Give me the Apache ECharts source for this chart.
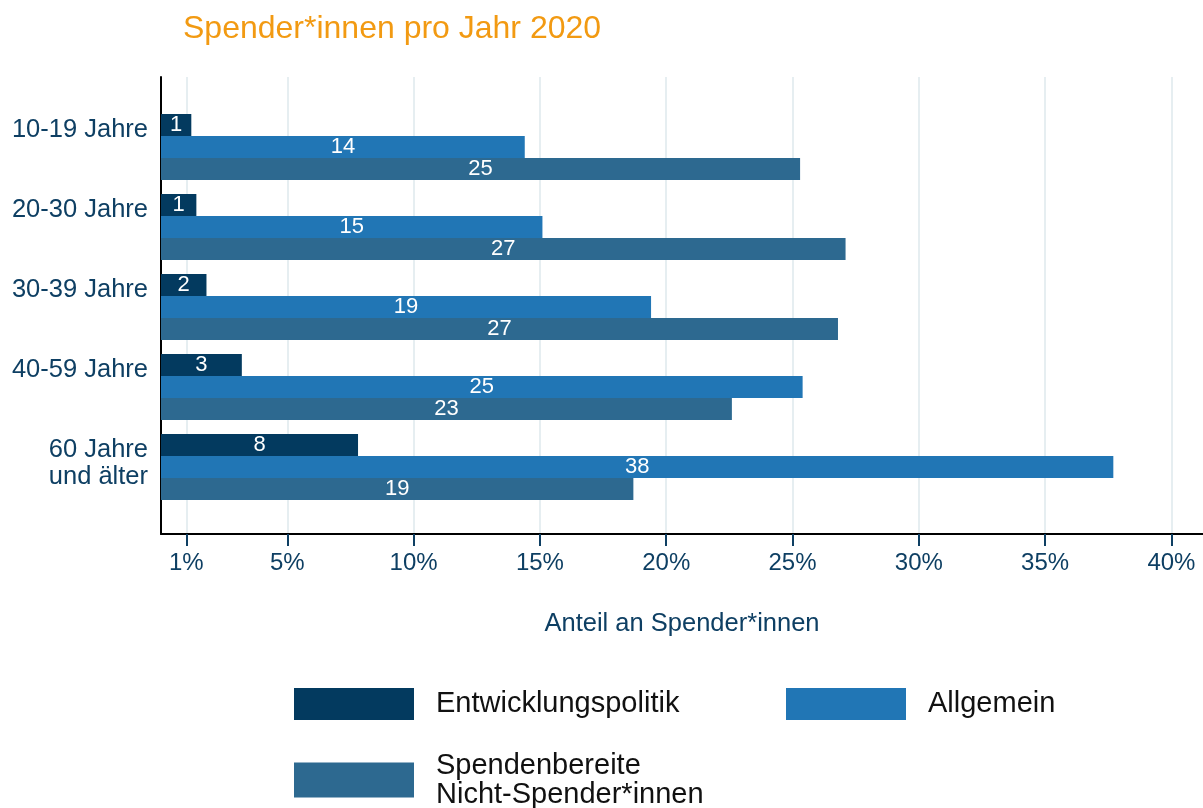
<!DOCTYPE html>
<html>
<head>
<meta charset="utf-8">
<style>
  html, body { margin: 0; padding: 0; background: #ffffff; }
  #chart { width: 1203px; height: 808px; }
</style>
<script src="https://cdn.jsdelivr.net/npm/echarts@6/dist/echarts.min.js"></script>
</head>
<body>
<div id="chart"></div>
<script>
// Altersgruppen (y-Achse)
const categories = ['10-19 Jahre', '20-30 Jahre', '30-39 Jahre', '40-59 Jahre', '60 Jahre\nund älter'];

// Anteile in Prozent je Altersgruppe
const entwicklungspolitik = [1.2, 1.4, 1.8, 3.2, 7.8];
const allgemein = [14.4, 15.1, 19.4, 25.4, 37.7];
const nichtSpender = [25.3, 27.1, 26.8, 22.6, 18.7];

// Beschriftete Teilstriche der x-Achse
const xTicks = [1, 5, 10, 15, 20, 25, 30, 35, 40];

const seriesNames = ['Entwicklungspolitik', 'Allgemein', 'Spendenbereite Nicht-Spender*innen'];
const seriesColors = ['#033a5f', '#2176b5', '#2d6990'];

const FONT = '"Liberation Sans", Arial, Helvetica, sans-serif';
const NAVY = '#0e3f63';
const X_MAX = 41.25;

const chart = echarts.init(document.getElementById('chart'), null, { renderer: 'canvas' });

function barSeries(idx, values) {
  return {
    name: seriesNames[idx],
    type: 'bar',
    xAxisIndex: 1,
    yAxisIndex: 1,
    data: values,
    barWidth: 22,
    barGap: '0%',
    itemStyle: { color: seriesColors[idx] },
    label: {
      show: true,
      position: 'inside',
      color: '#ffffff',
      fontFamily: FONT,
      fontSize: 22,
      formatter: p => String(Math.round(p.value))
    },
    emphasis: { disabled: true },
    animation: false
  };
}

function legendItem(idx, left, top, itemHeight) {
  return {
    data: [seriesNames[idx]],
    left: left,
    top: top,
    padding: 0,
    icon: 'rect',
    itemWidth: 120,
    itemHeight: itemHeight,
    selectedMode: false,
    formatter: name => name.replace('Spendenbereite ', 'Spendenbereite\n'),
    textStyle: {
      fontFamily: FONT,
      fontSize: 29,
      lineHeight: 29,
      color: '#111111',
      padding: [0, 0, 0, 17]
    }
  };
}

const option = {
  backgroundColor: '#ffffff',
  animation: false,
  title: {
    text: 'Spender*innen pro Jahr 2020',
    left: 183,
    top: 13,
    padding: 0,
    textStyle: {
      fontFamily: FONT,
      fontSize: 32,
      fontWeight: 'normal',
      color: '#f29a12'
    }
  },
  legend: [
    legendItem(0, 294, 688, 32),
    legendItem(1, 786, 688, 32),
    legendItem(2, 294, 751, 35)
  ],
  grid: [
    // Rahmen mit Achsenlinien, Teilstrichen und Gitterlinien
    { left: 161, right: 0, top: 77, height: 457, containLabel: false },
    // Balkenbereich
    { left: 161, right: 0, top: 107, height: 400, containLabel: false },
    // Beschriftung der Altersgruppen, erste Zeile etwas oberhalb der Gruppenmitte
    { left: 161, right: 0, top: 76, height: 400, containLabel: false }
  ],
  xAxis: [
    {
      gridIndex: 0,
      type: 'value',
      min: 0,
      max: X_MAX,
      name: 'Anteil an Spender*innen',
      nameLocation: 'middle',
      nameGap: 77,
      nameTextStyle: { fontFamily: FONT, fontSize: 25.5, color: NAVY },
      axisLine: { show: true, onZero: false, lineStyle: { color: '#000000', width: 2 } },
      axisTick: { show: true, length: 12, customValues: xTicks, lineStyle: { color: NAVY, width: 2 } },
      axisLabel: {
        show: true,
        customValues: xTicks,
        formatter: v => v + '%',
        fontFamily: FONT,
        fontSize: 24,
        color: NAVY,
        margin: 17
      },
      splitLine: { show: true, lineStyle: { color: '#e6eef1', width: 2 } }
    },
    {
      gridIndex: 1,
      type: 'value',
      min: 0,
      max: X_MAX,
      show: false,
      splitLine: { show: false }
    },
    {
      gridIndex: 2,
      type: 'value',
      min: 0,
      max: X_MAX,
      show: false,
      splitLine: { show: false }
    }
  ],
  yAxis: [
    {
      gridIndex: 0,
      type: 'value',
      min: 0,
      max: 1,
      axisLine: { show: true, onZero: false, lineStyle: { color: '#000000', width: 2 } },
      axisTick: { show: false },
      axisLabel: { show: false },
      splitLine: { show: false }
    },
    {
      gridIndex: 1,
      type: 'category',
      inverse: true,
      data: categories,
      axisLine: { show: false },
      axisTick: { show: false },
      axisLabel: { show: false },
      splitLine: { show: false }
    },
    {
      gridIndex: 2,
      type: 'category',
      inverse: true,
      data: categories,
      axisLine: { show: false },
      axisTick: { show: false },
      axisLabel: {
        fontFamily: FONT,
        fontSize: 25.5,
        lineHeight: 27,
        color: NAVY,
        margin: 13,
        align: 'right',
        verticalAlign: 'top'
      },
      splitLine: { show: false }
    }
  ],
  series: [
    barSeries(0, entwicklungspolitik),
    barSeries(1, allgemein),
    barSeries(2, nichtSpender)
  ]
};

chart.setOption(option);
</script>
</body>
</html>
